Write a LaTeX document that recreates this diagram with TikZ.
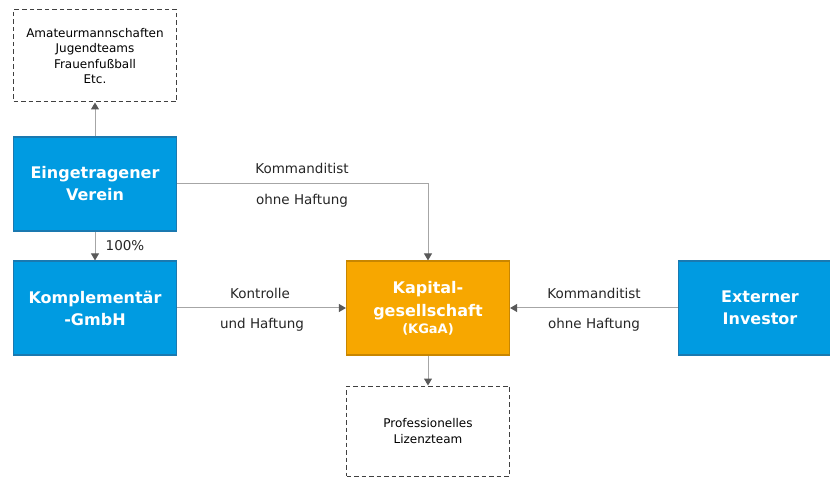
\documentclass[tikz,border=0pt]{standalone}
\usepackage{fontspec}
\setmainfont{DejaVu Sans}
\usetikzlibrary{arrows.meta}
\definecolor{boxblue}{HTML}{009BE1}
\definecolor{blueedge}{HTML}{1A79B0}
\definecolor{boxorange}{HTML}{F7A700}
\definecolor{orangeedge}{HTML}{C88600}
\definecolor{linegray}{HTML}{A6A6A6}
\definecolor{arrowgray}{HTML}{595959}
\tikzset{
  x=1pt, y=-1pt,
  bluebox/.style={draw=blueedge, line width=1.2pt, fill=boxblue, text=white, font=\bfseries\fontsize{16}{22}\selectfont, minimum width=163pt, minimum height=94pt, align=center, inner sep=0pt},
  orangebox/.style={draw=orangeedge, line width=1.2pt, fill=boxorange, text=white, font=\bfseries\fontsize{16}{23}\selectfont, minimum width=163pt, minimum height=94pt, align=center, inner sep=0pt},
  dashbox/.style={draw=black!75, dash pattern=on 4.5pt off 3pt, line width=1pt, fill=white, font=\fontsize{12}{15.4}\selectfont, minimum width=163pt, align=center, inner sep=0pt},
  conn/.style={draw=linegray, line width=1pt, -{Triangle[length=7pt,width=8pt,fill=arrowgray,color=arrowgray]}},
  lbl/.style={font=\fontsize{13.5}{16}\selectfont, text=black!85},
}
\begin{document}
\begin{tikzpicture}
\useasboundingbox (0,0) rectangle (830,478);
\clip (0,0) rectangle (830,478);
\node[dashbox, minimum height=92pt] (amat) at (95,56) {Amateurmannschaften\\Jugendteams\\Frauenfußball\\Etc.};
\node[bluebox] (verein) at (95,184) {Eingetragener\\Verein};
\node[bluebox] (kompl) at (95,308) {Komplementär\\-GmbH};
\node[orangebox] (kgaa) at (428,308) {Kapital-\\gesellschaft\\[-6pt]{\fontsize{13}{16}\selectfont (KGaA)}};
\node[bluebox] (inv) at (760,308) {Externer\\Investor};
\node[dashbox, minimum height=90pt, font=\fontsize{12}{16.5}\selectfont] (lizenz) at (428,431) {Professionelles\\Lizenzteam};
\coordinate (corner) at (428,184);
\draw[conn] (verein) -- (amat);
\draw[conn] (verein) -- (kompl);
\draw[conn] (verein.east) -- (corner) -- (kgaa.north);
\draw[conn] (kompl) -- (kgaa);
\draw[conn] (inv) -- (kgaa);
\draw[conn] (kgaa) -- (lizenz);
\node[lbl] (l1) at (302,168) {Kommanditist};
\node[lbl] (l2) at (302,201) {ohne Haftung};
\node[lbl] (l3) at (125,246) {100\%};
\node[lbl] (l4) at (260,293) {Kontrolle};
\node[lbl] (l5) at (262,325) {und Haftung};
\node[lbl] (l6) at (594,293) {Kommanditist};
\node[lbl] (l7) at (594,325) {ohne Haftung};
\end{tikzpicture}
\end{document}
